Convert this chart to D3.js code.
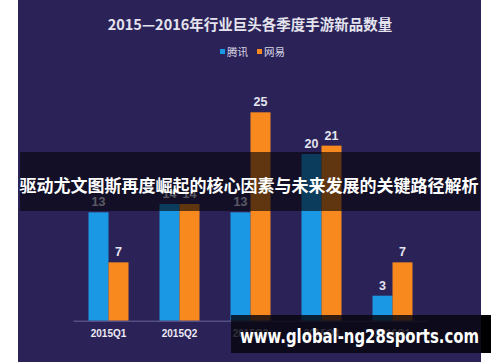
<!DOCTYPE html>
<html>
<head>
<meta charset="utf-8">
<script src="https://cdn.jsdelivr.net/npm/d3@7"></script>
<style>
  body { margin: 0; background: #fff; }
  text { font-family: "Noto Sans CJK SC", "Noto Sans", sans-serif; }
</style>
</head>
<body>
<div id="grafica"></div>
<script>
var quarters = ["2015Q1", "2015Q2", "2015Q3", "2015Q4", "2016Q1"];
var tencent = [13, 14, 13, 20, 3];
var netease = [7, 14, 25, 21, 7];
var seriesNames = ["腾讯", "网易"];
var colors = ["#1b98e3", "#f7891f"];

var chartTitle = "2015—2016年行业巨头各季度手游新品数量";
var bannerText = "驱动尤文图斯再度崛起的核心因素与未来发展的关键路径解析";
var siteText = "www.global-ng28sports.com";

var width = 500, height = 362;

var svg = d3.select("#grafica")
  .append("svg")
    .attr("width", width)
    .attr("height", height)
    .style("display", "block");

// panel background
svg.append("rect")
  .attr("x", 18).attr("y", 0)
  .attr("width", 463).attr("height", height)
  .attr("fill", "#2b2358");

svg.append("text")
  .attr("x", 250).attr("y", 30)
  .attr("text-anchor", "middle")
  .style("font-size", "14.5px")
  .style("font-weight", "bold")
  .attr("fill", "#e4e3ee")
  .text(chartTitle);

// legend
var legendX = [220, 257];
seriesNames.forEach(function(name, i) {
  svg.append("rect")
    .attr("x", legendX[i]).attr("y", 49)
    .attr("width", 5).attr("height", 5)
    .attr("fill", colors[i]);
  svg.append("text")
    .attr("x", legendX[i] + 7).attr("y", 55.5)
    .style("font-size", "10.5px")
    .attr("fill", "#d8d6e6")
    .text(name);
});

var x = d3.scaleBand()
  .domain(quarters)
  .range([73, 428]);

var y = d3.scaleLinear()
  .domain([0, 25])
  .range([320.7, 112.3]);

var barW = 20;

var data = quarters.map(function(q, i) {
  return { q: q, vals: [tencent[i], netease[i]] };
});

var groups = svg.selectAll(".grp")
  .data(data)
  .enter().append("g")
  .attr("class", "grp")
  .attr("transform", function(d) { return "translate(" + (x(d.q) + x.bandwidth() / 2) + ",0)"; });

groups.selectAll("rect")
  .data(function(d) { return d.vals; })
  .enter().append("rect")
  .attr("x", function(d, i) { return i === 0 ? -barW : 0; })
  .attr("y", function(d) { return y(d); })
  .attr("width", barW)
  .attr("height", function(d) { return y(0) - y(d); })
  .attr("fill", function(d, i) { return colors[i]; });

groups.selectAll(".lbl")
  .data(function(d) { return d.vals; })
  .enter().append("text")
  .attr("class", "lbl")
  .attr("x", function(d, i) { return i === 0 ? -barW / 2 : barW / 2; })
  .attr("y", function(d) { return y(d) - 6; })
  .attr("text-anchor", "middle")
  .style("font-size", "12.5px")
  .style("font-weight", "bold")
  .style("font-family", "Liberation Sans, Arial, sans-serif")
  .attr("fill", "#e6e5f0")
  .text(function(d) { return d; });

// x axis
var xAxis = svg.append("g")
  .attr("transform", "translate(0," + y(0) + ")")
  .call(d3.axisBottom(x).tickSize(0).tickPadding(9));
xAxis.select(".domain").attr("stroke", "#6b6598").attr("stroke-width", 1);
xAxis.selectAll("text")
  .style("font-size", "10px")
  .style("font-weight", "bold")
  .style("font-family", "Liberation Sans, Arial, sans-serif")
  .attr("fill", "#eceaf4");

// banner overlay
svg.append("rect")
  .attr("x", 20).attr("y", 152)
  .attr("width", 460).attr("height", 59)
  .attr("fill", "rgba(4,3,10,0.62)");
svg.append("text")
  .attr("x", 249).attr("y", 191.5)
  .attr("text-anchor", "middle")
  .style("font-size", "17px")
  .style("font-weight", "bold")
  .attr("fill", "#ffffff")
  .text(bannerText);

// site box
svg.append("rect")
  .attr("x", 231).attr("y", 315)
  .attr("width", 250).attr("height", 38)
  .attr("fill", "rgba(6,5,14,0.82)");
svg.append("rect")
  .attr("x", 481).attr("y", 315)
  .attr("width", 10).attr("height", 38)
  .attr("fill", "#000");
svg.append("text")
  .attr("x", 240).attr("y", 343)
  .attr("textLength", 239)
  .attr("lengthAdjust", "spacingAndGlyphs")
  .style("font-size", "19px")
  .style("font-weight", "bold")
  .style("font-family", "DejaVu Sans, sans-serif")
  .attr("fill", "#ffffff")
  .text(siteText);
</script>
</body>
</html>
